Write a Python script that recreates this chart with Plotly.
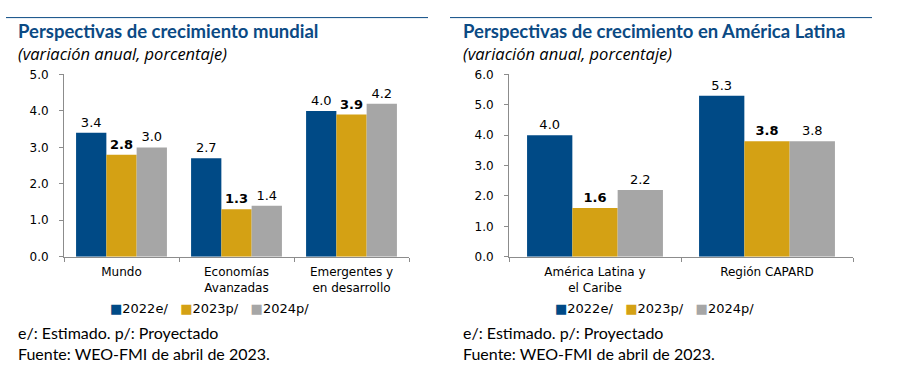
import plotly.graph_objects as go

W, H = 911, 390

series = ["2022e/", "2023p/", "2024p/"]
colors = ["#004A86", "#D4A114", "#A6A6A6"]

left_categories = ["Mundo", "Economías<br>Avanzadas", "Emergentes y<br>en desarrollo"]
left_2022 = [3.4, 2.7, 4.0]
left_2023 = [2.8, 1.3, 3.9]
left_2024 = [3.0, 1.4, 4.2]

right_categories = ["América Latina y<br>el Caribe", "Región CAPARD"]
right_2022 = [4.0, 5.3]
right_2023 = [1.6, 3.8]
right_2024 = [2.2, 3.8]

left_ticks = [0.0, 1.0, 2.0, 3.0, 4.0, 5.0]
right_ticks = [0.0, 1.0, 2.0, 3.0, 4.0, 5.0, 6.0]

left_title = "Perspectivas de crecimiento mundial"
right_title = "Perspectivas de crecimiento en América Latina"
subtitle = "(variación anual, porcentaje)"
note1 = "e/: Estimado. p/: Proyectado"
note2 = "Fuente: WEO-FMI de abril de 2023."

TICKFONT = dict(family="DejaVu Sans", size=12, color="#000000")
LABELFONT = "DejaVu Sans"
TEXTFONT = "Lato"
TITLECOLOR = "#0B4A84"
AXISCOLOR = "#8C8C8C"

fig = go.Figure()

def add_panel(cats, vals_list, xa, ya):
    for name, vals, col in zip(series, vals_list, colors):
        bold = name == "2023p/"
        fig.add_trace(go.Bar(
            x=cats, y=vals, name=name, marker=dict(color=col, line=dict(width=0)),
            xaxis=xa, yaxis=ya, showlegend=False,
            texttemplate="%{y:.1f}", textposition="outside", cliponaxis=False,
            textfont=dict(family=LABELFONT, size=13, color="#000000",
                          weight="bold" if bold else "normal"),
            hoverinfo="skip",
        ))

add_panel(left_categories, [left_2022, left_2023, left_2024], "x", "y")
add_panel(right_categories, [right_2022, right_2023, right_2024], "x2", "y2")

def px_x(v):
    return v / W

def px_y(v):
    return 1 - v / H

ydom = [px_y(259), px_y(70)]

xaxis_common = dict(
    showline=True, linecolor=AXISCOLOR, linewidth=1,
    ticks="outside", tickson="boundaries", ticklen=4, tickcolor=AXISCOLOR,
    tickfont=TICKFONT, showgrid=False, zeroline=False, fixedrange=True,
    ticklabelstandoff=4,
)
yaxis_common = dict(
    showline=True, linecolor=AXISCOLOR, linewidth=1,
    ticks="outside", ticklen=4, tickcolor=AXISCOLOR, tickformat=".1f",
    tickfont=TICKFONT, showgrid=False, zeroline=False, fixedrange=True,
    ticklabelstandoff=8,
)

fig.update_layout(
    width=W, height=H,
    margin=dict(l=0, r=0, t=0, b=0),
    paper_bgcolor="white", plot_bgcolor="white",
    barmode="group", bargap=0.21, bargroupgap=0,
    showlegend=False,
    xaxis=dict(domain=[px_x(64), px_x(409)], anchor="y", **xaxis_common),
    yaxis=dict(domain=ydom, anchor="x", range=[0, 5], tickvals=left_ticks, **yaxis_common),
    xaxis2=dict(domain=[px_x(509), px_x(853)], anchor="y2", **xaxis_common),
    yaxis2=dict(domain=ydom, anchor="x2", range=[0, 6], tickvals=right_ticks, **yaxis_common),
)

shapes = [
    dict(type="line", xref="paper", yref="paper", x0=px_x(6), x1=px_x(428), y0=px_y(11), y1=px_y(11),
         line=dict(color=TITLECOLOR, width=1)),
    dict(type="line", xref="paper", yref="paper", x0=px_x(450), x1=px_x(872), y0=px_y(11), y1=px_y(11),
         line=dict(color=TITLECOLOR, width=1)),
]
fig.update_layout(shapes=shapes)

legend_text = "   ".join(
    f"<span style='color:{c}'>■</span>{s}" for s, c in zip(series, colors)
)

annotations = []
for x0, title, lx in [(16, left_title, 209), (461, right_title, 654)]:
    annotations.append(dict(text=title, x=px_x(x0), y=px_y(25), xref="paper", yref="paper",
                            xanchor="left", yanchor="middle", showarrow=False,
                            font=dict(family=TEXTFONT, size=18.5, color=TITLECOLOR, weight="bold")))
    annotations.append(dict(text="<i>" + subtitle + "</i>", x=px_x(x0), y=px_y(48.5), xref="paper", yref="paper",
                            xanchor="left", yanchor="middle", showarrow=False,
                            font=dict(family="Open Sans", size=16.5, color="#000000")))
    annotations.append(dict(text=note1, x=px_x(x0), y=px_y(338), xref="paper", yref="paper",
                            xanchor="left", yanchor="middle", showarrow=False,
                            font=dict(family=TEXTFONT, size=16, color="#000000")))
    annotations.append(dict(text=note2, x=px_x(x0), y=px_y(359), xref="paper", yref="paper",
                            xanchor="left", yanchor="middle", showarrow=False,
                            font=dict(family=TEXTFONT, size=16, color="#000000")))
    annotations.append(dict(text=legend_text, x=px_x(lx), y=px_y(313), xref="paper", yref="paper",
                            xanchor="center", yanchor="middle", showarrow=False,
                            font=dict(family=LABELFONT, size=13, color="#000000")))
fig.update_layout(annotations=annotations)

fig.write_html("out.html", post_script="document.body.style.margin='0';",
               config={"displayModeBar": False})
